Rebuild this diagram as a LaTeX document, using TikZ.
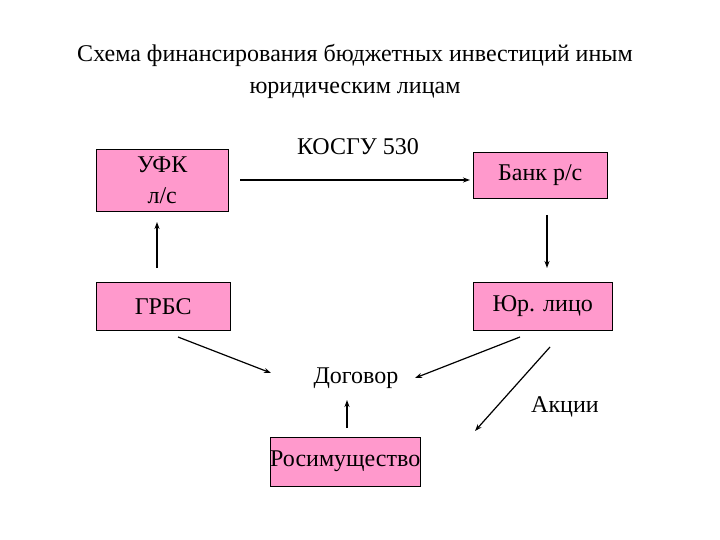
\documentclass[tikz,border=0pt]{standalone}
\usepackage{fontspec}
\setmainfont{Liberation Serif}
\usetikzlibrary{arrows.meta}
\begin{document}
\begin{tikzpicture}[x=1pt,y=-1pt,
  box/.style={draw=black,fill=pinkc,inner sep=0pt,font=\fontsize{24}{31}\selectfont},
  lbl/.style={font=\fontsize{24}{32}\selectfont,inner sep=0pt},
  arr/.style={draw=black,line width=1.2pt,-{Stealth[length=7pt,width=5pt]}}]
\definecolor{pinkc}{HTML}{FF99CC}
\useasboundingbox (0,0) rectangle (720,540);
\node[lbl,align=center] (title) at (355,71) {Схема финансирования бюджетных инвестиций иным\\юридическим лицам};
\node[box,minimum width=132pt,minimum height=62pt,anchor=north west,align=center] (ufk) at (96,149) {УФК\\л/с};
\node[box,minimum width=134pt,minimum height=46pt,anchor=north west] (bank) at (473,152) {Банк р/с};
\node[box,minimum width=134pt,minimum height=48pt,anchor=north west] (grbs) at (96,282) {ГРБС};
\node[box,minimum width=139pt,minimum height=48pt,anchor=north west] (ur) at (473,282) {Юр. лицо};
\node[box,minimum width=148pt,minimum height=49pt,anchor=north west] (ros) at (270,437) {Росимущество};
\node[lbl] (kosgu) at (358,147) {КОСГУ 530};
\node[lbl] (dog) at (356,378) {Договор};
\node[lbl] (akc) at (565,407) {Акции};
\coordinate (a1) at (240,180); \coordinate (a2) at (470,180);
\coordinate (b1) at (547,215); \coordinate (b2) at (547,268);
\coordinate (c1) at (157,268); \coordinate (c2) at (157,222);
\coordinate (d1) at (178,337); \coordinate (d2) at (271,373);
\coordinate (e1) at (520,337); \coordinate (e2) at (415,378);
\coordinate (f1) at (550,347); \coordinate (f2) at (475,431);
\coordinate (g1) at (347,428); \coordinate (g2) at (347,400);
\foreach \s/\t in {a1/a2,b1/b2,c1/c2,d1/d2,e1/e2,f1/f2,g1/g2} \draw[arr] (\s) -- (\t);
\end{tikzpicture}
\end{document}
